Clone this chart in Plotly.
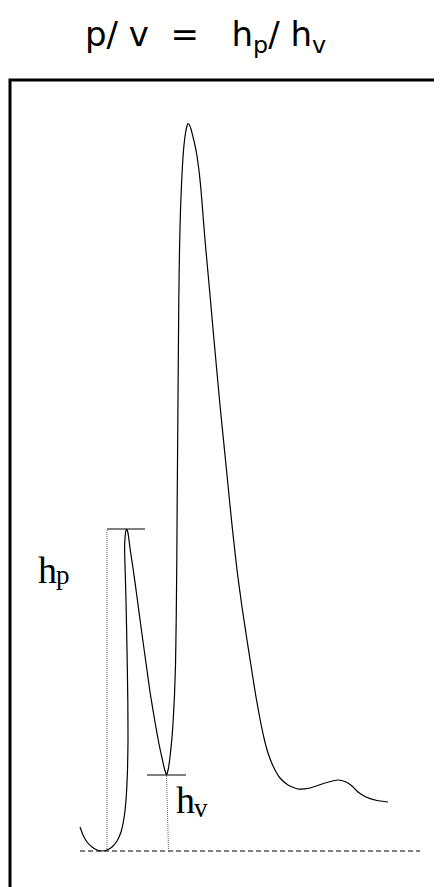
import plotly.graph_objects as go

# trace: time position and height above the baseline
time = [80, 83, 87, 92, 97, 102, 107, 112, 117, 121, 124, 126, 127.5, 128, 127.8,
        127, 126, 125, 124.6, 125, 125.6, 126.3, 127, 127.8, 128.6, 129.6, 131, 133,
        137, 141, 146, 150, 155, 159, 162, 164.5, 166.5, 168.3, 170, 171.8, 173.2,
        174.5, 175.5, 176.2, 176.8, 177.2, 178, 178.8, 179.5, 180.5, 181.5, 182.5,
        184, 185.5, 187, 188, 189.5, 191, 192.5, 194.5, 196.5, 198, 199.5, 201, 203,
        205, 207, 210, 214, 220, 227, 232, 237, 242, 247, 252, 256, 260, 264, 268,
        274, 280, 288, 298, 310, 325, 338, 346, 352, 358, 366, 377, 388]
height = [24, 16, 9, 4, 1, 0, 1, 4, 10, 19, 33, 51, 81, 111, 151,
          201, 251, 286, 303, 313, 319, 321.7, 321.4, 319, 314, 306, 296, 283,
          254, 224, 188, 159, 129, 107, 93, 82, 76, 82, 94, 111, 131,
          156, 186, 231, 291, 351, 451, 551, 601, 641, 666, 686,
          706, 718, 725, 727.5, 726, 722, 716, 708, 698, 688, 676, 661, 636,
          611, 589, 556, 511, 446, 376, 326, 281, 244, 211, 179, 154, 132, 113, 98,
          83, 73, 66, 62, 63, 68, 71, 69, 65, 59, 54, 50.5, 49]

# peak / valley markers
peak_t, peak_h = 126, 322
valley_t, valley_h = 166.5, 76
base_start, base_end = 80, 420

NB = "\u00a0"
title_text = f"p/ v{NB * 2}={NB * 3}h<sub>p</sub>/ h<sub>v</sub>"

fig = go.Figure()

# dashed baseline
fig.add_trace(go.Scatter(x=[base_start, base_end], y=[0, 0], mode="lines",
                         line=dict(color="black", width=1, dash="5px,3px"),
                         hoverinfo="skip"))
# dotted height guides
fig.add_trace(go.Scatter(x=[107, 107], y=[0, peak_h], mode="lines",
                         line=dict(color="#666666", width=1, dash="1px,1px"),
                         hoverinfo="skip"))
fig.add_trace(go.Scatter(x=[168.5, valley_t], y=[0, valley_h], mode="lines",
                         line=dict(color="#666666", width=1, dash="1px,1px"),
                         hoverinfo="skip"))
# level ticks
fig.add_trace(go.Scatter(x=[107, 145], y=[peak_h, peak_h], mode="lines",
                         line=dict(color="black", width=1), hoverinfo="skip"))
fig.add_trace(go.Scatter(x=[147, 186], y=[valley_h, valley_h], mode="lines",
                         line=dict(color="black", width=1), hoverinfo="skip"))
# the pulse
fig.add_trace(go.Scatter(x=time, y=height, mode="lines",
                         line=dict(color="black", width=1.2, shape="spline", smoothing=0.5)))

# frame (only top and left edges fall inside the view)
fig.add_shape(type="rect", x0=10, x1=600, y0=771, y1=-200,
              line=dict(color="black", width=3))

fig.add_annotation(x=205, y=851 - 36, text=title_text, showarrow=False,
                   xanchor="center", yanchor="middle",
                   font=dict(family="DejaVu Sans", size=34, color="black"))

serif = dict(family="Liberation Serif", color="black")
fig.add_annotation(x=36, y=851 - 569.5, text="h", showarrow=False,
                   xanchor="left", yanchor="middle", font=dict(size=38, **serif))
fig.add_annotation(x=54, y=851 - 575, text="p", showarrow=False,
                   xanchor="left", yanchor="middle", font=dict(size=27, **serif))
fig.add_annotation(x=174, y=851 - 799.5, text="h", showarrow=False,
                   xanchor="left", yanchor="middle", font=dict(size=38, **serif))
fig.add_annotation(x=192, y=851 - 808, text="v", showarrow=False,
                   xanchor="left", yanchor="middle", font=dict(size=27, **serif))

# the page body has an 8px margin, so the figure is 8px smaller and the
# axis ranges start 8px in
fig.update_layout(
    width=434, height=879,
    margin=dict(l=0, r=0, t=0, b=0),
    paper_bgcolor="white", plot_bgcolor="white",
    showlegend=False,
    xaxis=dict(range=[8, 442], visible=False, fixedrange=True),
    yaxis=dict(range=[-36, 843], visible=False, fixedrange=True),
)

fig.write_html("out.html")
